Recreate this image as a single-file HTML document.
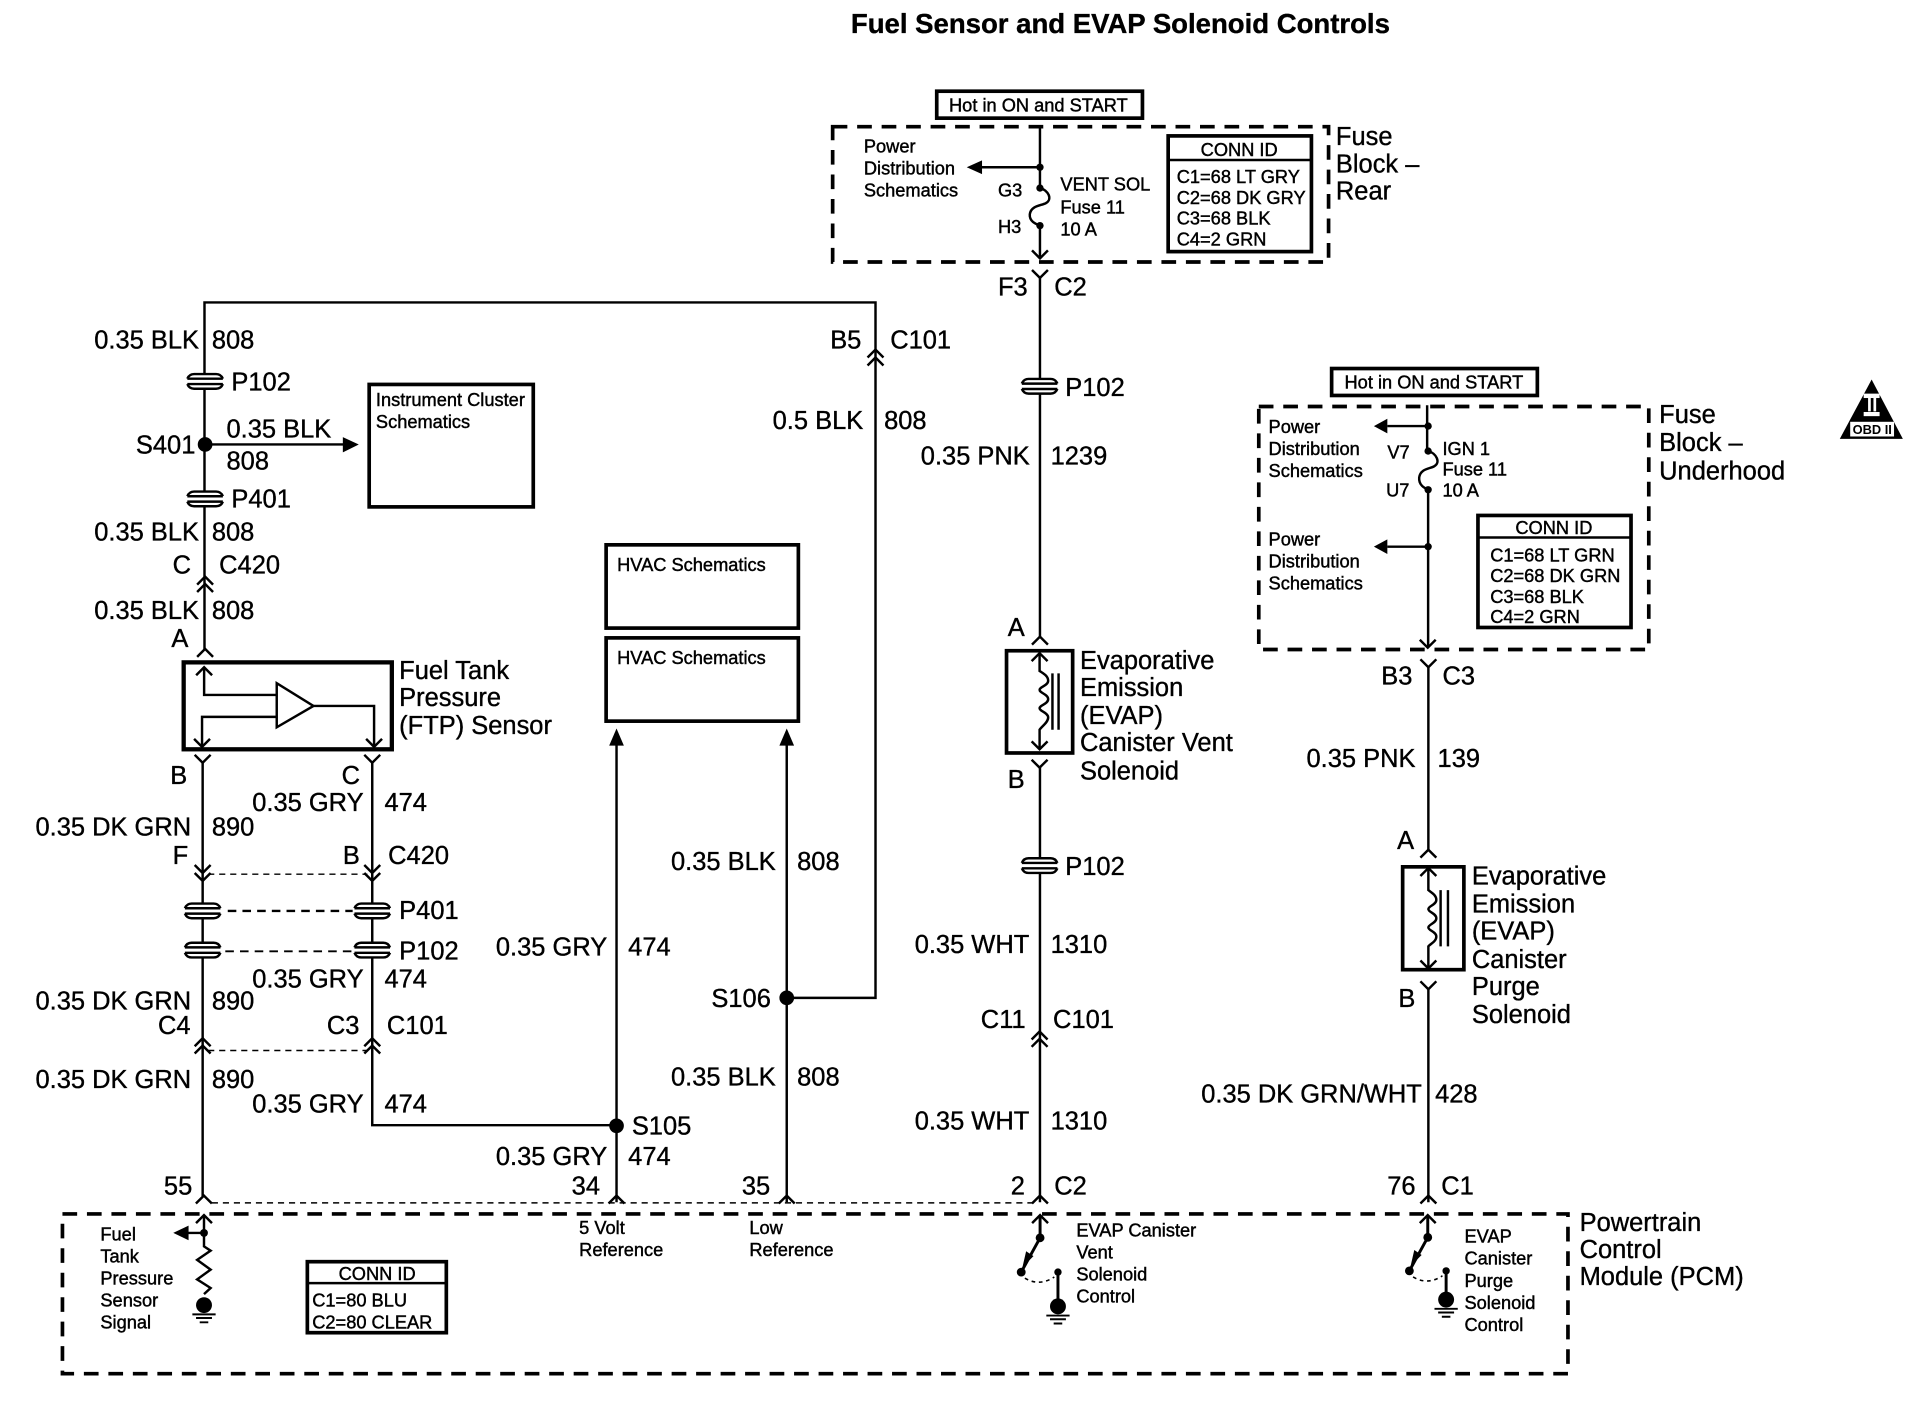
<!DOCTYPE html>
<html lang="en">
<head>
<meta charset="utf-8">
<title>Fuel Sensor and EVAP Solenoid Controls</title>
<style>
html,body{margin:0;padding:0;background:#fff}
svg{display:block}
text{font-family:"Liberation Sans",Arial,sans-serif;fill:#000;font-size:20.8px;stroke:#000;stroke-width:.3px}
.s{font-size:14.9px;stroke-width:.35px}
.m{text-anchor:middle}
.e{text-anchor:end}
.w{fill:none;stroke:#000;stroke-width:2}
.b{fill:#fff;stroke:#000;stroke-width:3}
.n{fill:none;stroke:#000;stroke-width:3}
.d{fill:none;stroke:#000;stroke-width:3;stroke-dasharray:12 8}
.t{fill:none;stroke:#000;stroke-width:1.2;stroke-dasharray:5 4}
.dm{fill:none;stroke:#000;stroke-width:2;stroke-dasharray:7 5}
</style>
</head>
<body>
<svg xmlns="http://www.w3.org/2000/svg" width="1920" height="1408" viewBox="0 0 1568 1150" preserveAspectRatio="none">
<defs>
<polyline id="up" points="-6.5,6.5 0,0 6.5,6.5" fill="none" stroke="#000" stroke-width="2"/>
<polyline id="dn" points="-6.5,-6.5 0,0 6.5,-6.5" fill="none" stroke="#000" stroke-width="2"/>
<g id="p">
<rect x="-12" y="-6" width="24" height="12" fill="#fff"/>
<path d="M-14.5 -2.2 Q-13 -6 -9 -6 H9 Q13 -6 14.5 -2.2 M-14.5 2.2 Q-13 6 -9 6 H9 Q13 6 14.5 2.2 M-14.5 -2.2 H14.5 M-14.5 2.2 H14.5" fill="none" stroke="#000" stroke-width="2"/>
</g>
<g id="gnd">
<circle cx="0" cy="0" r="6.5" fill="#000"/>
<path d="M-9.5 7.5H9.5M-3.5 14H3.5M-6.5 10.5H6.5" stroke="#000" stroke-width="1.6" fill="none"/>
</g>
</defs>
<rect width="1568" height="1150" fill="#fff"/>

<text x="915" y="27" class="m" style="font-weight:700;font-size:22.5px">Fuel Sensor and EVAP Solenoid Controls</text>

<!-- Rear fuse block -->
<rect x="765" y="74.5" width="168" height="22" class="n" fill="none"/>
<text x="848" y="91" class="s m">Hot in ON and START</text>
<rect x="680" y="103.5" width="405" height="110.5" class="d"/>
<path class="w" d="M849.3 103V153.6M849.3 184.3V210.5M849.3 136.6H800"/>
<path class="w" d="M849.3 153.6C856 155 860 163 854 166C850 168 842 168 841 175C840.5 181 846 183 849.3 184.3"/>
<circle cx="849.3" cy="136.6" r="3" /><circle cx="849.3" cy="153.6" r="3"/><circle cx="849.3" cy="184.3" r="3"/>
<polygon points="789.5,136.6 802,131 802,142.2"/>
<use href="#dn" x="849.3" y="211"/>
<text x="705.5" y="124.5" class="s">Power</text><text x="705.5" y="142.5" class="s">Distribution</text><text x="705.5" y="160.5" class="s">Schematics</text>
<text x="815" y="160.5" class="s">G3</text><text x="815" y="190.5" class="s">H3</text>
<text x="866" y="155.5" class="s">VENT SOL</text><text x="866" y="174.5" class="s">Fuse 11</text><text x="866" y="192.5" class="s">10 A</text>
<rect x="954" y="111" width="117" height="94.5" class="n" fill="none"/>
<path d="M954 130.7H1071" stroke="#000" stroke-width="2"/>
<text x="1012" y="127.5" class="s m">CONN ID</text>
<text x="961" y="149.5" class="s">C1=68 LT GRY</text><text x="961" y="166.5" class="s">C2=68 DK GRY</text><text x="961" y="183.5" class="s">C3=68 BLK</text><text x="961" y="200.5" class="s">C4=2 GRN</text>
<text x="1091" y="118.5">Fuse</text><text x="1091" y="141">Block –</text><text x="1091" y="163">Rear</text>

<!-- Center wire -->
<use href="#dn" x="849.3" y="227"/>
<path class="w" d="M849.3 227V520M849.3 626V982"/>
<use href="#p" x="849" y="315.5"/><use href="#p" x="849" y="707"/>
<use href="#up" x="849.3" y="520"/>
<text x="815" y="241.5">F3</text><text x="861" y="241.5">C2</text>
<text x="870" y="323.5">P102</text>
<text x="752" y="379.5">0.35 PNK</text><text x="858" y="379.5">1239</text>
<text x="823" y="519.5">A</text>
<rect x="822" y="531.5" width="54" height="83.5" class="n" fill="none"/>
<use href="#up" x="849" y="533.5"/>
<path class="w" d="M849 534V548C852 550 856 552 856 556C856 560 849 561 849 563.5C849 566 856 567 856 571C856 575 849 576 849 578.5C849 581 856 582 856 586C856 590 851 593 849 596V611.5"/>
<path class="w" d="M859.5 550V596M864.5 550V596"/>
<use href="#dn" x="849" y="612"/>
<use href="#dn" x="849" y="627"/>
<text x="882" y="546.5">Evaporative</text><text x="882" y="568.5">Emission</text><text x="882" y="591.5">(EVAP)</text><text x="882" y="613.5">Canister Vent</text><text x="882" y="636.5">Solenoid</text>
<text x="823" y="643.5">B</text>
<text x="870" y="714.5">P102</text>
<text x="747" y="778.5">0.35 WHT</text><text x="858" y="778.5">1310</text>
<text x="801" y="839.5">C11</text><text x="860" y="839.5">C101</text>
<use href="#up" x="849" y="842.5"/><use href="#up" x="849" y="848.5"/>
<text x="747" y="922.5">0.35 WHT</text><text x="858" y="922.5">1310</text>
<text x="837" y="975.5" class="e">2</text><text x="861" y="975.5">C2</text>
<use href="#up" x="849.3" y="976.5"/>

<!-- Underhood block -->
<rect x="1087.5" y="301" width="168" height="22" class="n" fill="none"/>
<text x="1171" y="317.5" class="s m">Hot in ON and START</text>
<rect x="1028" y="332" width="318.5" height="198.5" class="d"/>
<path class="w" d="M1165.5 331V368.4M1166.3 400V528M1166.3 348H1133M1166.3 446.5H1133"/>
<path class="w" d="M1166.3 368.4C1173 370 1177 378 1171 381C1167 383 1160 383 1159 390C1158.5 396 1163 398.5 1166.3 400"/>
<circle cx="1166.3" cy="348" r="3"/><circle cx="1166.3" cy="368.4" r="3"/><circle cx="1166.3" cy="400" r="3"/><circle cx="1166.3" cy="446.5" r="3"/>
<polygon points="1122,348 1133,342 1133,354"/><polygon points="1122,446.5 1133,440.5 1133,452.5"/>
<use href="#dn" x="1166" y="529"/>
<text x="1036" y="353.5" class="s">Power</text><text x="1036" y="371.5" class="s">Distribution</text><text x="1036" y="389.5" class="s">Schematics</text>
<text x="1036" y="445.5" class="s">Power</text><text x="1036" y="463.5" class="s">Distribution</text><text x="1036" y="481.5" class="s">Schematics</text>
<text x="1133" y="374.5" class="s">V7</text><text x="1132" y="405.5" class="s">U7</text>
<text x="1178" y="371.5" class="s">IGN 1</text><text x="1178" y="388.5" class="s">Fuse 11</text><text x="1178" y="405.5" class="s">10 A</text>
<rect x="1207" y="421" width="125" height="91.5" class="n" fill="none"/>
<path d="M1207 439H1332" stroke="#000" stroke-width="2"/>
<text x="1269" y="436" class="s m">CONN ID</text>
<text x="1217" y="458.5" class="s">C1=68 LT GRN</text><text x="1217" y="475.5" class="s">C2=68 DK GRN</text><text x="1217" y="492.5" class="s">C3=68 BLK</text><text x="1217" y="509" class="s">C4=2 GRN</text>
<text x="1355" y="345.5">Fuse</text><text x="1355" y="368.5">Block –</text><text x="1355" y="391.5">Underhood</text>

<!-- Right wire -->
<use href="#dn" x="1166.5" y="545"/>
<path class="w" d="M1166.5 545V694M1166.5 808V982"/>
<use href="#up" x="1166.5" y="694"/>
<text x="1128" y="559">B3</text><text x="1178" y="559">C3</text>
<text x="1067" y="626.5">0.35 PNK</text><text x="1174" y="626.5">139</text>
<text x="1141" y="693.5">A</text>
<rect x="1145.5" y="708" width="50" height="84" class="n" fill="none"/>
<use href="#up" x="1166.5" y="709"/>
<path class="w" d="M1166.5 709V727C1169 729 1173 731 1173 735C1173 739 1166.5 740 1166.5 742.5C1166.5 745 1173 746 1173 750C1173 754 1166.5 755 1166.5 757.5C1166.5 760 1173 761 1173 765C1173 769 1168 771 1166.5 773V790.5"/>
<path class="w" d="M1176.5 727V773M1182.5 727V773"/>
<use href="#dn" x="1166.5" y="791"/>
<use href="#dn" x="1166.5" y="808"/>
<text x="1202" y="722.5">Evaporative</text><text x="1202" y="745.5">Emission</text><text x="1202" y="767.5">(EVAP)</text><text x="1202" y="790.5">Canister</text><text x="1202" y="812.5">Purge</text><text x="1202" y="835.5">Solenoid</text>
<text x="1142" y="822.5">B</text>
<text x="981" y="900.5">0.35 DK GRN/WHT</text><text x="1172" y="900.5">428</text>
<text x="1156" y="975.5" class="e">76</text><text x="1177" y="975.5">C1</text>
<use href="#up" x="1166.5" y="976.5"/>

<!-- Top left wiring -->
<path class="w" d="M167 530.5V247H715V292M715 293V815H643"/>
<use href="#p" x="167.5" y="311.5"/><use href="#p" x="167.5" y="407.5"/>
<circle cx="167.5" cy="363" r="6"/>
<path class="w" d="M167 363H281"/>
<polygon points="293,363 280,357 280,369.5"/>
<use href="#up" x="167.5" y="471"/><use href="#up" x="167.5" y="477"/>
<use href="#up" x="167.5" y="530"/>
<use href="#up" x="715" y="285.5"/><use href="#up" x="715" y="292"/>
<text x="77" y="284.5">0.35 BLK</text><text x="173" y="284.5">808</text>
<text x="189" y="319">P102</text>
<text x="111" y="370.5">S401</text>
<text x="185" y="357.5">0.35 BLK</text><text x="185" y="383.5">808</text>
<text x="189" y="414.5">P401</text>
<text x="77" y="441.5">0.35 BLK</text><text x="173" y="441.5">808</text>
<text x="141" y="468.5">C</text><text x="179" y="468.5">C420</text>
<text x="77" y="505.5">0.35 BLK</text><text x="173" y="505.5">808</text>
<text x="140" y="528.5">A</text>
<text x="678" y="284.5">B5</text><text x="727" y="284.5">C101</text>
<text x="631" y="350.5">0.5 BLK</text><text x="722" y="350.5">808</text>

<rect x="301.5" y="314" width="134" height="100" class="n" fill="none"/>
<text x="307" y="331.5" class="s">Instrument Cluster</text><text x="307" y="349.5" class="s">Schematics</text>
<rect x="495" y="445" width="157" height="68" class="n" fill="none"/>
<text x="504" y="466.5" class="s">HVAC Schematics</text>
<rect x="495" y="521" width="157" height="68" class="n" fill="none"/>
<text x="504" y="542.5" class="s">HVAC Schematics</text>

<!-- FTP sensor -->
<rect x="150" y="541" width="170" height="71" fill="none" stroke="#000" stroke-width="3.5"/>
<path class="w" d="M166.7 545V567.6H226M226 585.5H165V609M256 576.6H305.5V609"/>
<polygon points="226,558 226,594 256,576.6" fill="#fff" stroke="#000" stroke-width="2"/>
<use href="#up" x="166.7" y="545"/><use href="#dn" x="165" y="610"/><use href="#dn" x="305.5" y="610"/>
<text x="326" y="554.5">Fuel Tank</text><text x="326" y="576.5">Pressure</text><text x="326" y="599.5">(FTP) Sensor</text>

<!-- Lower left wiring -->
<use href="#dn" x="165.5" y="623"/><use href="#dn" x="304" y="623"/>
<path class="w" d="M165.5 623V977M304 623V919H503.5"/>
<use href="#dn" x="165.5" y="713"/><use href="#dn" x="304" y="713"/>
<use href="#dn" x="165.5" y="719.5"/><use href="#dn" x="304" y="719.5"/>
<path class="t" d="M170 714H300M170 858H300"/>
<use href="#p" x="165.5" y="744"/><use href="#p" x="304" y="744"/>
<use href="#p" x="165.5" y="776"/><use href="#p" x="304" y="776"/>
<path class="dm" d="M186 744H288"/>
<path class="t" d="M184 777H288" style="stroke-width:1.6;stroke-dasharray:7 5"/>
<use href="#up" x="165.5" y="848"/><use href="#up" x="304" y="848"/>
<use href="#up" x="165.5" y="854"/><use href="#up" x="304" y="854"/>
<text x="139" y="640.5">B</text><text x="279" y="640.5">C</text>
<text x="206" y="662.5">0.35 GRY</text><text x="314" y="662.5">474</text>
<text x="29" y="682.5">0.35 DK GRN</text><text x="173" y="682.5">890</text>
<text x="141" y="705.5">F</text><text x="280" y="705.5">B</text><text x="317" y="705.5">C420</text>
<text x="326" y="750.5">P401</text><text x="326" y="783.5">P102</text>
<text x="206" y="806.5">0.35 GRY</text><text x="314" y="806.5">474</text>
<text x="29" y="824.5">0.35 DK GRN</text><text x="173" y="824.5">890</text>
<text x="129" y="844.5">C4</text><text x="267" y="844.5">C3</text><text x="316" y="844.5">C101</text>
<text x="29" y="888.5">0.35 DK GRN</text><text x="173" y="888.5">890</text>
<text x="206" y="908.5">0.35 GRY</text><text x="314" y="908.5">474</text>

<!-- Middle wires -->
<path class="w" d="M503.5 606V982M642.5 606V982"/>
<polygon points="503.5,595 497.5,609 509.5,609"/><polygon points="642.5,595 636.5,609 648.5,609"/>
<circle cx="503.5" cy="919.5" r="6"/><circle cx="642.5" cy="815" r="6"/>
<text x="405" y="780.5">0.35 GRY</text><text x="513" y="780.5">474</text>
<text x="548" y="710.5">0.35 BLK</text><text x="651" y="710.5">808</text>
<text x="581" y="822.5">S106</text><text x="516" y="926.5">S105</text>
<text x="548" y="886.5">0.35 BLK</text><text x="651" y="886.5">808</text>
<text x="405" y="951.5">0.35 GRY</text><text x="513" y="951.5">474</text>
<text x="157" y="975.5" class="e">55</text><text x="490" y="975.5" class="e">34</text><text x="629" y="975.5" class="e">35</text>
<use href="#up" x="166.5" y="976.5"/><use href="#up" x="503.5" y="976.5"/><use href="#up" x="642.5" y="976.5"/>
<path class="t" d="M173 982.5H845"/>

<!-- PCM -->
<rect x="51" y="991.5" width="1229.5" height="130.5" class="d"/>
<text x="1290" y="1005.5">Powertrain</text><text x="1290" y="1027.5">Control</text><text x="1290" y="1049.5">Module (PCM)</text>
<use href="#up" x="166.6" y="992.5"/>
<path class="w" d="M166.6 993V1018L172 1021.5L161 1029L172 1037L161 1045L172 1052L166.6 1057M166.6 1007H152"/>
<circle cx="166.6" cy="1007" r="3.2"/>
<polygon points="141.5,1007 154,1001 154,1013"/>
<use href="#gnd" x="166.6" y="1066"/>
<text x="82" y="1013" class="s">Fuel</text><text x="82" y="1031" class="s">Tank</text><text x="82" y="1049" class="s">Pressure</text><text x="82" y="1067" class="s">Sensor</text><text x="82" y="1085" class="s">Signal</text>
<rect x="251" y="1030.5" width="113.5" height="58" class="n" fill="none"/>
<path d="M251 1048H364.5" stroke="#000" stroke-width="2"/>
<text x="308" y="1045.5" class="s m">CONN ID</text>
<text x="255" y="1067" class="s">C1=80 BLU</text><text x="255" y="1085" class="s">C2=80 CLEAR</text>
<text x="473" y="1008" class="s">5 Volt</text><text x="473" y="1026" class="s">Reference</text>
<text x="612" y="1008" class="s">Low</text><text x="612" y="1026" class="s">Reference</text>

<use href="#up" x="849.4" y="992.5"/>
<path class="w" d="M849.4 993V1011L834 1039M864 1039V1067" style="stroke-width:2.4"/>
<circle cx="849.4" cy="1011" r="3.6"/><circle cx="834" cy="1039" r="3.6"/><circle cx="864" cy="1039" r="3"/>
<path d="M837 1044Q849 1051 861 1043" fill="none" stroke="#000" stroke-width="1.3" stroke-dasharray="3 3"/>
<polygon points="835,1035 838,1022 844,1026"/>
<use href="#gnd" x="864" y="1067"/>
<text x="879" y="1010" class="s">EVAP Canister</text><text x="879" y="1028" class="s">Vent</text><text x="879" y="1046" class="s">Solenoid</text><text x="879" y="1064" class="s">Control</text>

<use href="#up" x="1166" y="992.5"/>
<path class="w" d="M1166 993V1010.6L1151 1038M1181 1038V1062" style="stroke-width:2.4"/>
<circle cx="1166" cy="1010.6" r="3.6"/><circle cx="1151" cy="1038" r="3.6"/><circle cx="1181" cy="1038" r="3"/>
<path d="M1154 1043Q1166 1050 1178 1042" fill="none" stroke="#000" stroke-width="1.3" stroke-dasharray="3 3"/>
<polygon points="1152,1034 1155,1021 1161,1025"/>
<use href="#gnd" x="1181" y="1061.5"/>
<text x="1196" y="1015" class="s">EVAP</text><text x="1196" y="1033" class="s">Canister</text><text x="1196" y="1051" class="s">Purge</text><text x="1196" y="1069" class="s">Solenoid</text><text x="1196" y="1087" class="s">Control</text>

<!-- OBD II -->
<polygon points="1528.5,310 1502.5,358.5 1554,358.5"/>
<rect x="1522" y="321.5" width="13" height="3.6" fill="#fff"/>
<rect x="1525.6" y="325" width="2.2" height="11" fill="#fff"/>
<rect x="1530" y="325" width="2.2" height="11" fill="#fff"/>
<rect x="1522" y="336.5" width="13" height="3.4" fill="#fff"/>
<rect x="1511" y="344.5" width="35.8" height="12" fill="#fff"/>
<text x="1529" y="354.5" class="m" style="font-size:10.5px;font-weight:700;stroke-width:0">OBD II</text>
</svg>
</body>
</html>
